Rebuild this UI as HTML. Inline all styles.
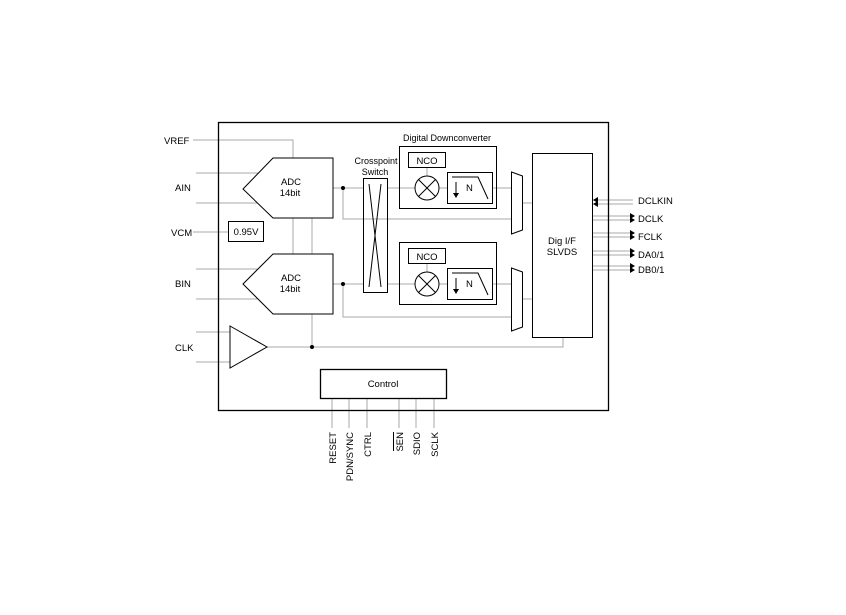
<!DOCTYPE html>
<html><head><style>html,body{margin:0;padding:0;background:#fff}svg{display:block}text{font-family:"Liberation Sans",sans-serif;font-size:9.5px;fill:#000}</style></head><body>
<svg width="846" height="615" viewBox="0 0 846 615" xmlns="http://www.w3.org/2000/svg">
<g stroke="#aaa" stroke-width="1" fill="none">
<polyline points="193,140 293,140 293,158"/>
<line x1="196" y1="173" x2="258" y2="173"/><line x1="196" y1="203" x2="258" y2="203"/>
<line x1="193" y1="232" x2="228" y2="232"/>
<line x1="196" y1="269" x2="258" y2="269"/><line x1="196" y1="299" x2="258" y2="299"/>
<line x1="196" y1="332" x2="230" y2="332"/><line x1="196" y1="362" x2="230" y2="362"/>
<line x1="293" y1="218" x2="293" y2="254"/><line x1="312" y1="218" x2="312" y2="254"/>
<line x1="312" y1="314" x2="312" y2="347"/>
<polyline points="267,347 563,347 563,337"/>
<line x1="333" y1="188" x2="363" y2="188"/><polyline points="343,188 343,219 511,219"/>
<line x1="333" y1="284" x2="363" y2="284"/><polyline points="343,284 343,317 511,317"/>
<line x1="387" y1="188" x2="415" y2="188"/><line x1="387" y1="284" x2="415" y2="284"/>
<line x1="439" y1="188" x2="447" y2="188"/><line x1="439" y1="284" x2="447" y2="284"/>
<line x1="492" y1="188" x2="511" y2="188"/><line x1="492" y1="284" x2="511" y2="284"/>
<line x1="427" y1="167" x2="427" y2="176"/><line x1="427" y1="263" x2="427" y2="272"/>
<line x1="522" y1="203" x2="532" y2="203"/><line x1="522" y1="299" x2="532" y2="299"/>
<line x1="592" y1="200" x2="633" y2="200"/><line x1="592" y1="204" x2="633" y2="204"/>
<line x1="592" y1="216" x2="630" y2="216"/><line x1="592" y1="220" x2="630" y2="220"/>
<line x1="592" y1="233" x2="630" y2="233"/><line x1="592" y1="237" x2="630" y2="237"/>
<line x1="592" y1="251" x2="630" y2="251"/><line x1="592" y1="255" x2="630" y2="255"/>
<line x1="592" y1="266" x2="630" y2="266"/><line x1="592" y1="270" x2="630" y2="270"/>
<line x1="332" y1="398" x2="332" y2="428"/><line x1="349" y1="398" x2="349" y2="428"/>
<line x1="367" y1="398" x2="367" y2="428"/><line x1="399" y1="398" x2="399" y2="428"/>
<line x1="416" y1="398" x2="416" y2="428"/><line x1="434" y1="398" x2="434" y2="428"/>
</g>
<g stroke="#000" fill="none" stroke-width="1">
<rect x="218.5" y="122.5" width="390" height="288" stroke-width="1.3"/>
<polygon points="243,189 273,158 333,158 333,218 273,218" fill="#fff"/>
<polygon points="243,284 273,254 333,254 333,314 273,314" fill="#fff"/>
<rect x="228.5" y="221.5" width="35" height="20"/>
<polygon points="230,326 267,347 230,368" fill="#fff"/>
<rect x="363.5" y="178.5" width="24" height="114"/>
<line x1="369" y1="184" x2="381" y2="287"/><line x1="381" y1="184" x2="369" y2="287"/>
<rect x="399.5" y="146.5" width="97" height="62"/>
<rect x="408.5" y="152.5" width="37" height="15"/>
<circle cx="427" cy="188" r="12"/><line x1="418.5" y1="179.5" x2="435.5" y2="196.5"/><line x1="435.5" y1="179.5" x2="418.5" y2="196.5"/>
<rect x="447.5" y="172.5" width="45" height="31"/>
<polyline points="452,177 478,177 488,199"/>
<rect x="399.5" y="242.5" width="97" height="62"/>
<rect x="408.5" y="248.5" width="37" height="15"/>
<circle cx="427" cy="284" r="12"/><line x1="418.5" y1="275.5" x2="435.5" y2="292.5"/><line x1="435.5" y1="275.5" x2="418.5" y2="292.5"/>
<rect x="447.5" y="268.5" width="45" height="31"/>
<polyline points="452,273 478,273 488,295"/>
<line x1="456" y1="182" x2="456" y2="194"/><line x1="456" y1="278" x2="456" y2="290"/>
<polygon points="511.5,172 522.5,176 522.5,230 511.5,234" fill="#fff"/>
<polygon points="511.5,268 522.5,272 522.5,327 511.5,331" fill="#fff"/>
<rect x="532.5" y="153.5" width="60" height="184"/>
<rect x="320.5" y="369.5" width="126" height="29" stroke-width="1.3"/>
</g>
<g fill="#000">
<circle cx="343" cy="188" r="2"/><circle cx="343" cy="284" r="2"/><circle cx="312" cy="347" r="2"/>
<polygon points="453,193 459,193 456,198"/><polygon points="453,289 459,289 456,294"/>
<polygon points="593,200 598,197 598,203"/><polygon points="593,204 598,201 598,207"/>
<polygon points="635,216 630,213 630,219"/><polygon points="635,220 630,217 630,223"/>
<polygon points="635,233 630,230 630,236"/><polygon points="635,237 630,234 630,240"/>
<polygon points="635,251 630,248 630,254"/><polygon points="635,255 630,252 630,258"/>
<polygon points="635,266 630,263 630,269"/><polygon points="635,270 630,267 630,273"/>
</g>
<text x="164" y="144">VREF</text><text x="175" y="191">AIN</text><text x="171" y="236">VCM</text>
<text x="175" y="287">BIN</text><text x="175" y="351">CLK</text>
<text x="291" y="185" text-anchor="middle">ADC</text><text x="290" y="196" text-anchor="middle">14bit</text>
<text x="291" y="281" text-anchor="middle">ADC</text><text x="290" y="292" text-anchor="middle">14bit</text>
<text x="246" y="235" text-anchor="middle">0.95V</text>
<text x="376" y="164" text-anchor="middle" style="font-size:9px">Crosspoint</text><text x="375" y="175" text-anchor="middle" style="font-size:9px">Switch</text>
<text x="447" y="141" text-anchor="middle" style="font-size:9px">Digital Downconverter</text>
<text x="427" y="164" text-anchor="middle">NCO</text><text x="427" y="260" text-anchor="middle">NCO</text>
<text x="466" y="191">N</text><text x="466" y="287">N</text>
<text x="562" y="244" text-anchor="middle">Dig I/F</text><text x="562" y="255" text-anchor="middle">SLVDS</text>
<text x="638" y="204">DCLKIN</text><text x="638" y="222">DCLK</text><text x="638" y="240">FCLK</text>
<text x="638" y="258">DA0/1</text><text x="638" y="273">DB0/1</text>
<text x="383" y="387" text-anchor="middle">Control</text>
<g text-anchor="end">
<text transform="translate(336,432) rotate(-90)">RESET</text>
<text transform="translate(353,432) rotate(-90)">PDN/SYNC</text>
<text transform="translate(371,432) rotate(-90)">CTRL</text>
<text transform="translate(403,432) rotate(-90)">SEN</text>
<text transform="translate(420,432) rotate(-90)">SDIO</text>
<text transform="translate(438,432) rotate(-90)">SCLK</text>
</g>
<line x1="393.5" y1="432" x2="393.5" y2="451" stroke="#000" stroke-width="1"/>
</svg>
</body></html>
